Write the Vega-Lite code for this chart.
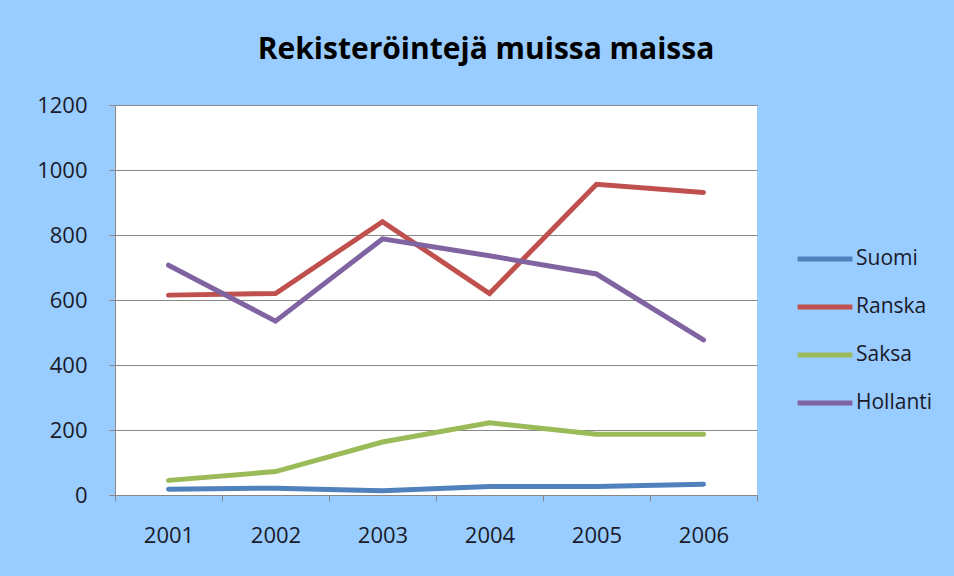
{
  "$schema": "https://vega.github.io/schema/vega-lite/v6.json",
  "width": 642,
  "height": 390,
  "autosize": {"type": "none"},
  "padding": {"left": 115, "top": 105, "right": 197, "bottom": 81},
  "background": "#99CCFF",
  "view": {"fill": "white", "stroke": null},
  "title": {
    "text": "Rekisteröintejä muissa maissa",
    "font": "Open Sans",
    "fontSize": 30,
    "fontWeight": "bold",
    "color": "#000000",
    "anchor": "middle",
    "dx": 50,
    "offset": 29
  },
  "data": {
    "values": [
      {"year": "2001", "country": "Suomi", "value": 18},
      {"year": "2002", "country": "Suomi", "value": 21},
      {"year": "2003", "country": "Suomi", "value": 13},
      {"year": "2004", "country": "Suomi", "value": 26},
      {"year": "2005", "country": "Suomi", "value": 26},
      {"year": "2006", "country": "Suomi", "value": 33},
      {"year": "2001", "country": "Ranska", "value": 615},
      {"year": "2002", "country": "Ranska", "value": 620},
      {"year": "2003", "country": "Ranska", "value": 841},
      {"year": "2004", "country": "Ranska", "value": 620},
      {"year": "2005", "country": "Ranska", "value": 956},
      {"year": "2006", "country": "Ranska", "value": 931},
      {"year": "2001", "country": "Saksa", "value": 45},
      {"year": "2002", "country": "Saksa", "value": 72},
      {"year": "2003", "country": "Saksa", "value": 163},
      {"year": "2004", "country": "Saksa", "value": 222},
      {"year": "2005", "country": "Saksa", "value": 187},
      {"year": "2006", "country": "Saksa", "value": 187},
      {"year": "2001", "country": "Hollanti", "value": 707},
      {"year": "2002", "country": "Hollanti", "value": 535},
      {"year": "2003", "country": "Hollanti", "value": 788},
      {"year": "2004", "country": "Hollanti", "value": 736},
      {"year": "2005", "country": "Hollanti", "value": 680},
      {"year": "2006", "country": "Hollanti", "value": 477}
    ]
  },
  "mark": {"type": "line", "strokeWidth": 5, "strokeCap": "round", "strokeJoin": "miter"},
  "encoding": {
    "x": {
      "field": "year",
      "type": "ordinal",
      "scale": {"type": "band", "paddingInner": 0, "paddingOuter": 0},
      "axis": {
        "title": null,
        "labelAngle": 0,
        "tickBand": "extent",
        "tickSize": 6,
        "tickColor": "#888888",
        "domainColor": "#888888",
        "labelFont": "Open Sans",
        "labelFontSize": 22,
        "labelColor": "#1a1a2a",
        "labelPadding": 24,
        "grid": false
      }
    },
    "y": {
      "field": "value",
      "type": "quantitative",
      "scale": {"domain": [0, 1200], "nice": false},
      "axis": {
        "title": null,
        "values": [0, 200, 400, 600, 800, 1000, 1200],
        "format": "d",
        "tickSize": 6,
        "tickColor": "#888888",
        "domainColor": "#888888",
        "gridColor": "#888888",
        "gridWidth": 1,
        "labelFont": "Open Sans",
        "labelFontSize": 22,
        "labelColor": "#1a1a2a",
        "labelPadding": 22
      }
    },
    "color": {
      "field": "country",
      "type": "nominal",
      "sort": ["Suomi", "Ranska", "Saksa", "Hollanti"],
      "scale": {
        "domain": ["Suomi", "Ranska", "Saksa", "Hollanti"],
        "range": ["#4F81BD", "#C0504D", "#9BBB59", "#8064A2"]
      },
      "legend": {
        "title": null,
        "orient": "none",
        "legendX": 680,
        "legendY": 124,
        "symbolType": "stroke",
        "symbolSize": 3000,
        "symbolStrokeWidth": 5,
        "labelFont": "Open Sans",
        "labelFontSize": 21,
        "labelColor": "#1a1a2a",
        "labelOffset": 1,
        "rowPadding": 8
      }
    }
  }
}
